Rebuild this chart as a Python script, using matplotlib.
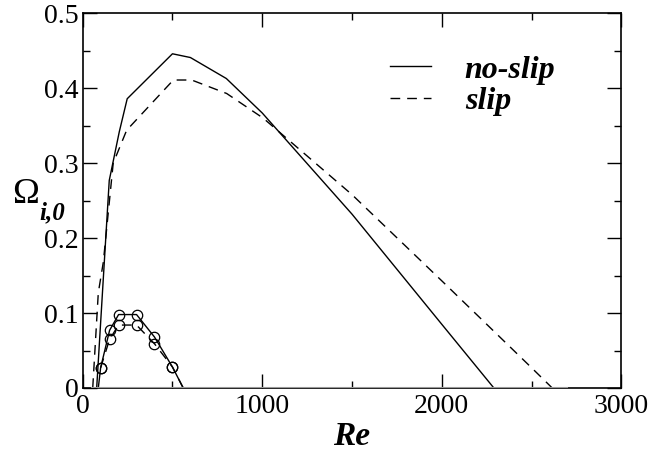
import matplotlib.pyplot as plt
from matplotlib.ticker import MultipleLocator

plt.rcParams['font.family'] = ['Liberation Serif', 'DejaVu Serif']

# no-slip, large curve
re_noslip = [78, 148, 204, 248, 500, 600, 800, 1000, 1500, 2000, 2290]
om_noslip = [0.0, 0.277, 0.342, 0.386, 0.446, 0.441, 0.413, 0.367, 0.232, 0.085, 0.0]

# slip, large curve
re_slip = [56, 87, 115, 170, 245, 505, 607, 802, 1006, 1500, 2000, 2500, 2615]
om_slip = [0.0, 0.127, 0.168, 0.300, 0.344, 0.411, 0.411, 0.393, 0.360, 0.258, 0.143, 0.027, 0.0]

# small curves with circles
re_small = [100, 150, 200, 300, 400, 500]
om_small_noslip = [0.027, 0.077, 0.098, 0.098, 0.068, 0.028]
om_small_slip = [0.027, 0.065, 0.084, 0.084, 0.059, 0.028]
re_small_end = [87, 560]

fig = plt.figure(figsize=(6.52, 4.53), dpi=100)
ax = fig.add_axes([0.1268, 0.1435, 0.8262, 0.8271])

ax.plot([50, 2700], [0, 0], color='#999999', lw=1.5, zorder=3)

ax.plot(re_noslip, om_noslip, '-', color='black', lw=1.0, label='no-slip')
ax.plot(re_slip, om_slip, '--', color='black', lw=1.0, dashes=(7, 5), label='slip')

ax.plot([re_small_end[0]] + re_small + [re_small_end[1]], [0] + om_small_noslip + [0],
        '-', color='black', lw=1.0)
ax.plot(re_small + [re_small_end[1]], om_small_slip + [0],
        '--', color='black', lw=1.0, dashes=(7, 5))
ax.plot(re_small, om_small_noslip, 'o', ms=7.5, mfc='none', mec='black', mew=0.9)
ax.plot(re_small, om_small_slip, 'o', ms=7.5, mfc='none', mec='black', mew=0.9)

ax.set_xlim(0, 3000)
ax.set_ylim(0, 0.5)
ax.xaxis.set_major_locator(MultipleLocator(1000))
ax.xaxis.set_minor_locator(MultipleLocator(500))
ax.yaxis.set_major_locator(MultipleLocator(0.1))
ax.yaxis.set_minor_locator(MultipleLocator(0.05))
ax.xaxis.set_major_formatter(plt.FuncFormatter(lambda x, p: f'{int(x)}'))
ax.yaxis.set_major_formatter(plt.FuncFormatter(lambda y, p: '0' if abs(y) < 1e-9 else f'{y:.1f}'))

ax.tick_params(which='both', direction='in', top=True, right=True, width=1.0, labelsize=20)
ax.tick_params(which='major', length=10)
ax.tick_params(which='minor', length=5)
ax.tick_params(axis='x', which='major', pad=4)
ax.tick_params(axis='y', which='major', pad=3)
for sp in ax.spines.values():
    sp.set_linewidth(1.2)

ax.set_xlabel('Re', fontsize=24, fontweight='bold', fontstyle='italic', labelpad=2)

# y label: Omega with bold italic subscript
fig.text(12 / 652, 1 - 203 / 453, '\u03a9', fontsize=26, ha='left', va='baseline')
fig.text(39 / 652, 1 - 219 / 453, 'i,0', fontsize=18, fontweight='bold',
         fontstyle='italic', ha='left', va='baseline')

leg = ax.legend(loc='upper left', bbox_to_anchor=(0.570, 0.888), frameon=False,
                borderpad=0, borderaxespad=0,
                handlelength=1.3, handletextpad=1.05, labelspacing=0.06,
                prop={'size': 23, 'weight': 'bold', 'style': 'italic'})

fig.savefig('out.png', dpi=100)
